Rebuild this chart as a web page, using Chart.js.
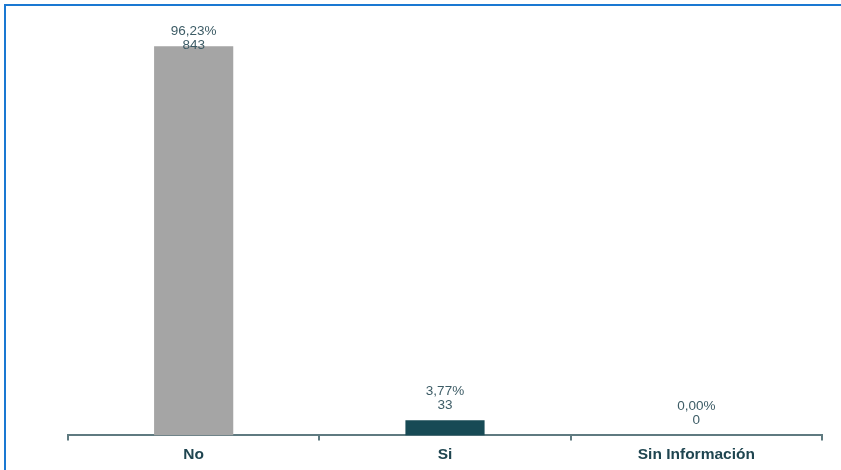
<!DOCTYPE html>
<html>
<head>
<meta charset="utf-8">
<script src="https://cdn.jsdelivr.net/npm/chart.js@4"></script>
<style>
  body { margin: 0; background: #fff; }
  #wrap { position: relative; width: 841px; height: 470px; }
  #frame {
    position: absolute; left: 4px; top: 4px; right: 0; bottom: 0;
    border-left: 2px solid #1a78d2; border-top: 2px solid #1a78d2;
    pointer-events: none;
  }
</style>
</head>
<body>
<div id="wrap">
  <canvas id="chart" width="841" height="470"></canvas>
  <div id="frame"></div>
</div>
<script>
const categories = ["No", "Si", "Sin Información"];
const counts = [843, 33, 0];
const pctLabels = ["96,23%", "3,77%", "0,00%"];
const barColors = ["#a5a5a5", "#174a55", "#7f7f7f"];

// two-line value labels above each bar
const valueLabels = {
    id: "valueLabels",
    afterDatasetsDraw(chart) {
        const ctx = chart.ctx;
        const meta = chart.getDatasetMeta(0);
        ctx.save();
        ctx.font = "13.5px 'Liberation Sans', Arial, sans-serif";
        ctx.fillStyle = "#3d5c66";
        ctx.textAlign = "center";
        ctx.textBaseline = "middle";
        meta.data.forEach((bar, i) => {
            let numY = bar.y - 15;
            if (numY - 14 < 31) numY = 45;
            ctx.fillText(pctLabels[i], bar.x, numY - 14);
            ctx.fillText(String(counts[i]), bar.x, numY);
        });
        ctx.restore();
    }
};

new Chart(document.getElementById("chart").getContext("2d"), {
    type: "bar",
    data: {
        labels: categories,
        datasets: [{
            data: counts,
            backgroundColor: barColors,
            categoryPercentage: 1,
            barPercentage: 0.315
        }]
    },
    options: {
        responsive: false,
        animation: false,
        events: [],
        layout: { padding: { left: 68, right: 19, top: 20, bottom: 1 } },
        plugins: {
            legend: { display: false },
            tooltip: { enabled: false }
        },
        scales: {
            y: { display: false, min: 0, max: 900 },
            x: {
                border: { display: true, color: "#5f7a80", width: 2 },
                grid: {
                    offset: true,
                    drawOnChartArea: false,
                    drawTicks: true,
                    tickLength: 5,
                    color: "#5f7a80",
                    lineWidth: 2
                },
                ticks: {
                    color: "#1f4550",
                    padding: 5,
                    font: { family: "'Liberation Sans', Arial, sans-serif", size: 15.5, weight: "bold" }
                }
            }
        }
    },
    plugins: [valueLabels]
});
</script>
</body>
</html>
